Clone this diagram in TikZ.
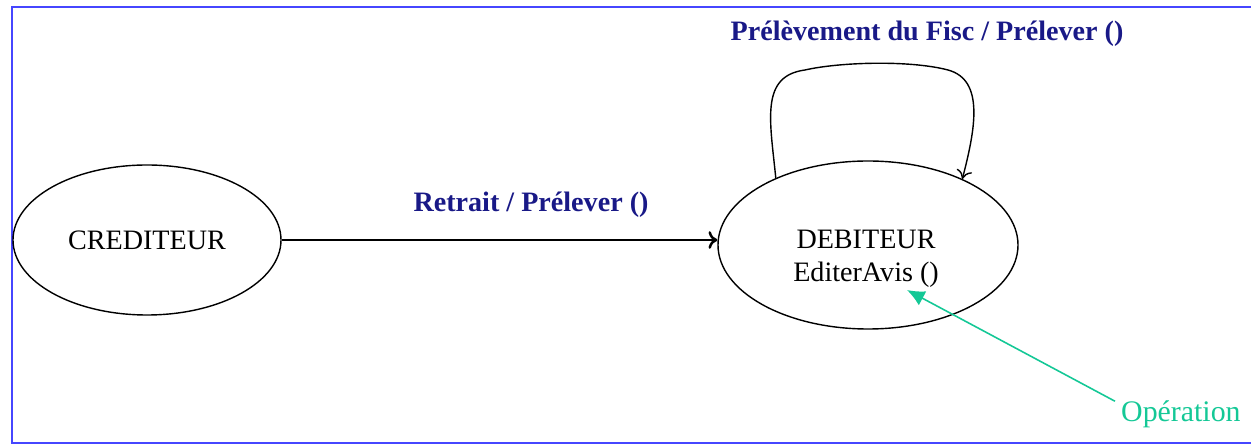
\documentclass[tikz,border=0pt]{standalone}
\usepackage{fontspec}
\setmainfont{Liberation Serif}
\usepackage{tikz}
\usetikzlibrary{shapes.geometric,arrows.meta}
\definecolor{cadre}{RGB}{70,70,255}
\definecolor{bleuEtiq}{RGB}{25,25,135}
\definecolor{vertOp}{RGB}{20,200,150}

\tikzset{
  etat/.style={draw=black, line width=0.8pt, ellipse, inner sep=0pt},
  texte/.style={align=center, font=\fontsize{16}{19}\selectfont},
  etiq/.style={text=bleuEtiq, font=\fontsize{16}{19}\selectfont\bfseries},
}

\begin{document}
\begin{tikzpicture}[x=0.02cm, y=-0.02cm]
\useasboundingbox (0,0) rectangle (1251,445);
%% cadre
\draw [cadre, line width=1.2pt] (1251,7) -- (12,7) -- (12,443) -- (1251,443);
%% etats
\node [etat, texte, minimum width=268*0.02cm, minimum height=150*0.02cm] (cred) at (147,240) {CREDITEUR};
\node [etat, minimum width=300*0.02cm, minimum height=168*0.02cm] (deb) at (868,245) {};
\node [texte] (debTxt) at (866,259) {DEBITEUR\\EditerAvis ()};
%% transitions
\draw [black, line width=1.4pt, -{To[length=5pt,width=10pt]}] (cred.east) -- (cred.east -| deb.west);
\node [etiq] (retrait) at (531,205) {Retrait / Prélever ()};
\draw [black, line width=0.8pt, -{To[length=5pt,width=9pt]}] (deb.144)
  .. controls (770,120) and (760,76) .. (805,70)
  .. controls (840,62) and (910,60) .. (948,70)
  .. controls (985,80) and (975,130) .. (deb.35);
\node [etiq] (fisc) at (927,34) {Prélèvement du Fisc / Prélever ()};
%% operation
\node [text=vertOp, font=\fontsize{17}{20}\selectfont, anchor=west] (op) at (1115,414) {Opération};
\coordinate (opPointe) at (907,290);
\draw [vertOp, line width=0.9pt, -{Latex[length=10pt,width=9pt]}] ([yshift=-4pt]op.north west) -- (opPointe);

\end{tikzpicture}
\end{document}
